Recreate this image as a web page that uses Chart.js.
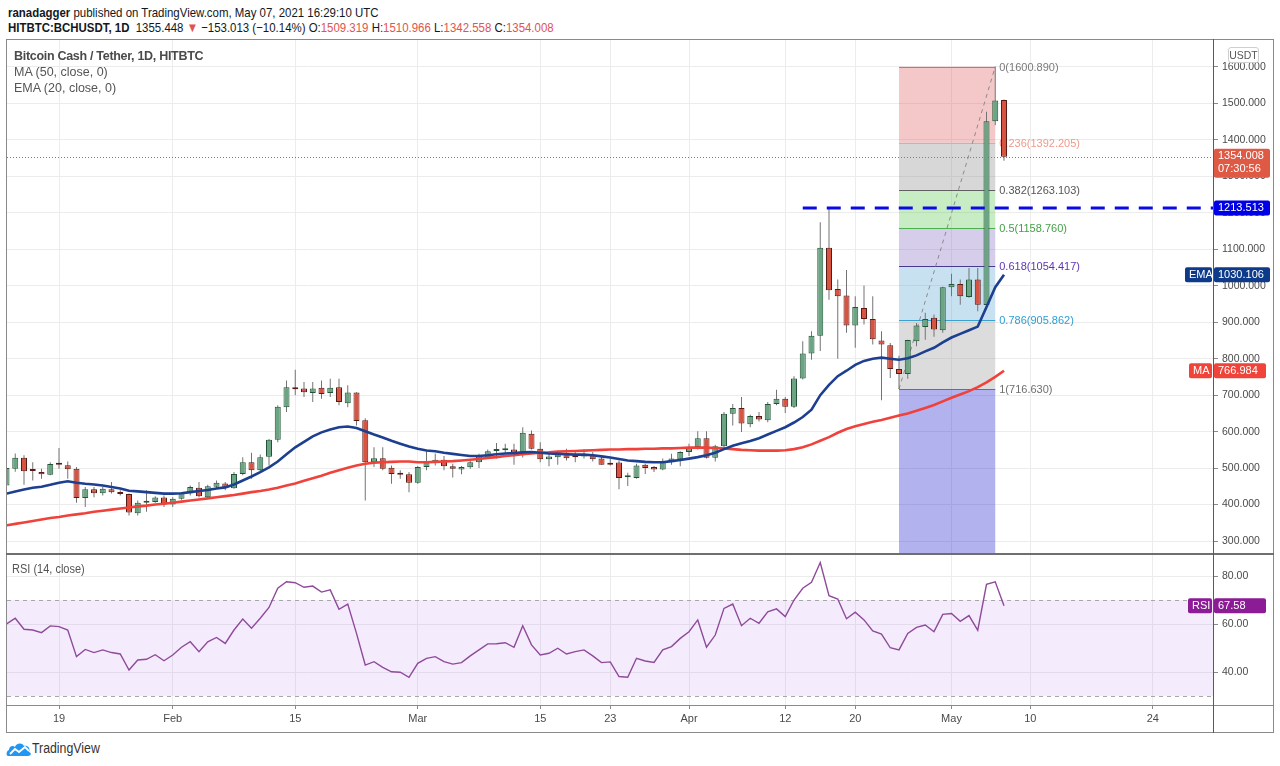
<!DOCTYPE html>
<html>
<head>
<meta charset="utf-8">
<script src="https://cdn.jsdelivr.net/npm/chart.js@4.4.1/dist/chart.umd.min.js"></script>
<style>
  body { margin: 0; background: #fff; width: 1280px; height: 766px; position: relative; overflow: hidden;
         font-family: 'Liberation Sans', sans-serif; color: #131722; }
  .abs { position: absolute; }
  .narrow { transform-origin: 0 50%; transform: scaleX(0.88); }
  #hdr1 { left: 8px; top: 5px; font-size: 13px; white-space: nowrap; }
  #hdr2 { left: 8px; top: 20px; font-size: 13px; white-space: nowrap; }
  .r { color: #e0544f; }
  #frame { left: 6px; top: 39px; width: 1268px; height: 694px; box-sizing: border-box; border: 1px solid #8a8a8a; }
  #sep { left: 6px; top: 553px; width: 1268px; height: 2px; background: #6f6f6f; }
  #xline { left: 6px; top: 705px; width: 1268px; height: 1px; background: #8a8a8a; }
  #yline { left: 1213px; top: 39px; width: 1px; height: 694px; background: #5a5a5a; }
  #legend { left: 14px; top: 48px; font-size: 12.5px; line-height: 16px; color: #555; white-space: nowrap; }
  #legend b { color: #4a4a4a; letter-spacing: -0.3px; }
  #rsiTitle { left: 12px; top: 562px; font-size: 12.5px; color: #555; white-space: nowrap; }
  #usdt { left: 1228px; top: 47px; width: 31px; height: 16px; box-sizing: border-box; border: 1px solid #cfcfcf;
          border-radius: 3px; font-size: 10.5px; line-height: 14px; text-align: center; color: #555; background: #fff; }
  #logo { left: 6px; top: 740px; }
  #logoText { left: 32px; top: 740px; font-size: 14px; color: #333; }
</style>
</head>
<body>
<div id="hdr1" class="abs narrow"><b>ranadagger</b> published on TradingView.com, May 07, 2021 16:29:10 UTC</div>
<div id="hdr2" class="abs narrow"><b>HITBTC:BCHUSDT, 1D</b>&nbsp; 1355.448 <span class="r">&#9660;</span> &minus;153.013 (&minus;10.14%) O:<span class="r">1509.319</span> H:<span class="r">1510.966</span> L:<span class="r">1342.558</span> C:<span class="r">1354.008</span></div>

<canvas id="priceChart" class="abs" width="1266" height="513" style="left:7px;top:40px"></canvas>
<canvas id="rsiChart" class="abs" width="1266" height="178" style="left:7px;top:554px"></canvas>

<div id="frame" class="abs"></div>
<div id="sep" class="abs"></div>
<div id="xline" class="abs"></div>
<div id="yline" class="abs"></div>
<div id="usdt" class="abs">USDT</div>

<div id="legend" class="abs"><b>Bitcoin Cash / Tether, 1D, HITBTC</b><br>MA (50, close, 0)<br>EMA (20, close, 0)</div>
<div id="rsiTitle" class="abs narrow">RSI (14, close)</div>

<svg id="logo" class="abs" width="26" height="18" viewBox="0 0 26 18">
  <path d="M2 16 C0 16 0 11 3 10 C3 6 7 5 9 7 C10 3 16 2 18 6 C21 5 25 8 23 12 C26 13 25 16 22 16 Z" fill="#2196f3"/>
  <path d="M4 14 L9 9 L13 12 L19 7 L23 11" stroke="#fff" stroke-width="1.8" fill="none"/>
</svg>
<div id="logoText" class="abs narrow">TradingView</div>

<script>
// day 0 = Jan 19 2021, first candle Jan 13 (day -6), last candle May 7 (day 108)
const startDay = -6;

const opens = [452,498,528,494,489,482,510,508,498,418,442,431,442,434,429,376,405,407,419,400,
  416,431,446,420,449,458,445,484,516,494,531,578,667,721,718,706,720,706,722,678,
  707,631,516,527,501,483,483,460,503,515,523,505,496,502,516,529,547,549,551,538,
  594,553,524,530,542,533,532,537,526,511,515,475,473,509,503,496,516,524,544,558,
  582,528,560,649,665,620,643,631,676,690,668,746,814,863,1104,991,973,891,939,909,
  850,837,772,758,848,887,912,878,996,1005,969,1017,947,1451,1509.319];
const highs = [505,540,535,516,498,516,555,518,503,448,448,448,462,439,430,411,439,423,425,420,
  434,452,462,454,466,462,489,530,542,537,580,672,740,770,736,736,740,745,745,727,
  708,637,557,557,507,494,489,506,548,540,533,512,506,521,539,551,569,567,567,612,
  603,571,539,544,553,548,551,544,533,526,521,487,512,512,506,526,539,546,567,601,
  601,564,654,676,695,646,654,681,715,695,752,848,875,1174,1213.513,1017,1043,971,1001,971,
  875,843,808,852,898,926,921,997,1033,1017,1049,1049,1477,1600.890,1510.966];
const lows = [445,490,454,466,471,480,498,471,405,393,420,425,430,425,370,370,380,405,393,393,
  413,425,419,416,443,439,443,480,471,491,507,571,654,700,695,681,690,695,672,667,
  617,411,503,494,457,471,434,457,494,507,494,474,483,498,500,526,526,539,509,529,
  551,516,505,509,521,516,526,518,509,507,442,451,471,484,489,494,509,505,533,551,
  526,518,553,617,599,612,628,626,672,651,665,743,797,821,962,800,871,830,894,839,
  686,747,716.630,745,834,852,860,871,971,948,967,930,943,1440,1342.558];
const closes = [500,528,491,492,483,511,509,497,418,442,431,443,434,429,378,405,407,419,400,416,
  431,448,423,450,460,446,484,516,494,530,578,668,722,716,708,718,703,720,681,707,
  629,516,527,498,484,482,460,503,516,523,505,498,503,516,532,546,549,550,538,597,
  553,524,532,539,527,530,537,524,509,509,473,476,507,500,496,518,526,544,558,582,
  528,560,649,665,622,643,633,676,690,668,746,814,863,1104,988,971,891,942,909,853,
  839,772,758,851,891,909,880,996,1005,971,1017,948,1451,1508.461,1354.008];

const ma50 = [343,347,351,355,359,363,366,370,373,376,380,383,386,389,392,395,397,400,402,405,
  408,411,414,417,420,423,426,430,434,437,441,446,452,458,465,472,479,487,494,501,
  507,512,515,516,517,518,518,516,516,517,518,519,521,523,525,528,530,533,535,538,
  540,542,543,545,546,547,548,549,550,551,551,552,552,553,553,554,554,555,556,556,
  556,555,554,552,550,549,548,548,548,549,552,557,565,575,585,597,607,615,621,627,
  632,638,644,650,657,665,673,683,693,702,711,722,735,750,766.984];
const ema20 = [430,436,441,446,449,454,460,464,460,457,455,452,448,444,438,436,434,432,430,430,
  431,434,437,440,444,447,455,466,477,489,502,518,538,557,572,587,598,606,612,614,
  610,601,592,584,575,567,559,553,548,546,542,539,536,533,533,535,538,540,541,543,
  544,542,540,539,538,537,537,535,532,529,525,521,519,517,516,516,519,522,526,530,
  535,542,552,561,568,574,582,592,602,612,625,640,660,700,728,752,767,783,794,800,
  803,800,797,801,809,820,830,845,858,868,878,888,942,996,1030.106];
const rsi14 = [60.0,62.4,57.8,57.5,56.4,59.2,58.9,57.5,46.4,49.4,48.1,49.2,48.1,47.5,40.8,45.0,45.3,47.2,44.7,47.1,
  50.3,52.6,48.5,52.6,54.4,51.9,57.5,62.1,58.2,62.4,66.9,74.9,77.6,77.2,75.3,75.8,73.3,74.2,66.1,68.3,
  56.1,42.9,44.3,41.9,40.1,39.9,37.8,43.6,45.7,46.4,44.3,43.3,43.9,46.7,49.2,51.7,51.8,52.2,50.3,59.3,
  51.3,47.1,47.8,49.9,47.5,48.5,49.2,46.7,43.9,44.2,38.1,37.8,45.7,44.6,44.0,49.2,50.6,54.0,56.8,61.7,
  50.3,55.4,66.5,68.3,59.3,62.4,60.3,65.1,66.3,63.1,70.0,74.9,77.4,85.6,71.8,70.4,62.2,64.9,61.7,57.1,
  55.8,50.1,49.2,56.1,58.6,59.6,56.8,64.0,64.4,61.1,63.5,57.4,76.5,77.6,67.58];

const tickDays = [0, 13, 27, 41, 55, 63, 72, 83, 91, 102, 111, 125];
const tickLabels = ['19', 'Feb', '15', 'Mar', '15', '23', 'Apr', '12', '20', 'May', '10', '24'];
const priceTicks = [300, 400, 500, 600, 700, 800, 900, 1000, 1100, 1200, 1300, 1400, 1500, 1600];
const rsiTicks = [40, 60, 80];

// Fibonacci retracement drawn from the Apr 25 low to the May 6 high
const fibRatios = ['0', '0.236', '0.382', '0.5', '0.618', '0.786', '1', '1.618'];
const fibPrices = [1600.890, 1392.205, 1263.103, 1158.760, 1054.417, 905.862, 716.630, 170.131];
const fibStartDay = 96, fibEndDay = 107;
const resistance = 1213.513, resistanceStartDay = 85;
const lastPrice = 1354.008, countdown = '07:30:56';

const FONT = "'Liberation Sans', sans-serif";
const upColor = '#6ba583', downColor = '#d75442';
const upBorder = '#225437', downBorder = '#5b1a13', wickColor = '#737375';
const emaColor = '#1d3f8f', maColor = '#f0413a';
const gridColor = '#ececec';
const fibFills = ['rgba(224,98,98,0.35)', 'rgba(141,141,141,0.35)', 'rgba(98,201,86,0.35)',
  'rgba(138,112,198,0.35)', 'rgba(98,169,212,0.35)', 'rgba(155,155,155,0.35)', 'rgba(35,35,206,0.35)'];
const fibLines = ['#8c8c8c', '#f0a0a0', '#5f5f5f', '#4caf50', '#4a3a8f', '#3ba0d0', '#6f6f6f', '#6f6f6f'];
const fibText = ['#7a7a7a', '#f09a8a', '#555555', '#43a047', '#5e35b1', '#2a9fd6', '#6f6f6f', '#6f6f6f'];

Chart.defaults.font.family = FONT;

const days = opens.map((_, i) => startDay + i);
const xMin = -52 / 8.75, xMax = (1206 - 52) / 8.75;

const xTicks = scale => { scale.ticks = tickDays.map(v => ({ value: v })); };
// keep the plot area flush with the canvas edges
const noPadY = w => s => { s.width = w; s.paddingTop = 0; s.paddingBottom = 0; };
const noPadX = h => s => { s.height = h; s.paddingLeft = 0; s.paddingRight = 0; };

function tag(ctx, left, top, w, h, bg, lines) {
  ctx.fillStyle = bg;
  ctx.beginPath();
  ctx.roundRect(left, top, w, h, 2);
  ctx.fill();
  ctx.fillStyle = '#fff';
  ctx.font = '11px ' + FONT;
  ctx.textBaseline = 'middle';
  ctx.textAlign = 'left';
  lines.forEach((t, i) => ctx.fillText(t, left + 4, top + 7.5 + i * 13));
}

const priceDecor = {
  id: 'priceDecor',
  beforeDatasetsDraw(chart) {
    const { ctx, chartArea: a, scales: { x, y } } = chart;
    ctx.save();
    ctx.beginPath();
    ctx.rect(a.left, a.top, a.right - a.left, a.bottom - a.top);
    ctx.clip();

    // last price dotted line
    const py = Math.round(y.getPixelForValue(lastPrice)) + 0.5;
    ctx.strokeStyle = '#e0533f';
    ctx.lineWidth = 1;
    ctx.setLineDash([1, 2]);
    ctx.beginPath(); ctx.moveTo(a.left, py); ctx.lineTo(a.right, py); ctx.stroke();
    ctx.setLineDash([]);

    // fib bands
    const x0 = x.getPixelForValue(fibStartDay), x1 = x.getPixelForValue(fibEndDay);
    for (let i = 0; i < fibPrices.length - 1; i++) {
      const ya = y.getPixelForValue(fibPrices[i]), yb = y.getPixelForValue(fibPrices[i + 1]);
      ctx.fillStyle = fibFills[i];
      ctx.fillRect(x0, ya, x1 - x0, yb - ya);
    }
    ctx.font = '11px ' + FONT;
    ctx.textBaseline = 'middle';
    fibPrices.forEach((p, i) => {
      const ly = Math.round(y.getPixelForValue(p)) + 0.5;
      ctx.strokeStyle = fibLines[i];
      ctx.beginPath(); ctx.moveTo(x0, ly); ctx.lineTo(x1, ly); ctx.stroke();
      ctx.fillStyle = fibText[i];
      ctx.fillText(fibRatios[i] + '(' + p.toFixed(3) + ')', x1 + 4, ly);
    });

    // trend line of the retracement
    ctx.strokeStyle = '#8a8a8a';
    ctx.setLineDash([4, 4]);
    ctx.beginPath();
    ctx.moveTo(x0, y.getPixelForValue(fibPrices[6]));
    ctx.lineTo(x1, y.getPixelForValue(fibPrices[0]));
    ctx.stroke();
    ctx.restore();
  },
  afterDatasetsDraw(chart) {
    const { ctx, chartArea: a, scales: { x, y } } = chart;
    ctx.save();
    // resistance dashed line
    const ry = y.getPixelForValue(resistance);
    ctx.strokeStyle = '#0a0ae6';
    ctx.lineWidth = 3;
    ctx.setLineDash([14, 10]);
    ctx.beginPath(); ctx.moveTo(x.getPixelForValue(resistanceStartDay), ry); ctx.lineTo(a.right, ry); ctx.stroke();
    ctx.setLineDash([]);

    const L = a.right + 1;
    const lp = y.getPixelForValue(lastPrice);
    tag(ctx, L, lp - 8, 56, 29, '#de5a45', [lastPrice.toFixed(3), countdown]);
    tag(ctx, L, ry - 7.5, 56, 15, '#0000e6', [resistance.toFixed(3)]);
    const ev = ema20[ema20.length - 1], ey = y.getPixelForValue(ev);
    tag(ctx, L, ey - 7.5, 56, 15, '#0e3a8a', [ev.toFixed(3)]);
    tag(ctx, a.right - 28, ey - 7.5, 27, 15, '#0e3a8a', ['EMA']);
    const mv = ma50[ma50.length - 1], my = y.getPixelForValue(mv);
    tag(ctx, L, my - 7.5, 52, 15, '#f0443a', [mv.toFixed(3)]);
    tag(ctx, a.right - 24, my - 7.5, 23, 15, '#f0443a', ['MA']);
    ctx.restore();
  }
};

new Chart(document.getElementById('priceChart'), {
  type: 'bar',
  data: {
    datasets: [
      { type: 'line', label: 'EMA (20)', data: days.map((d, i) => ({ x: d, y: ema20[i] })),
        borderColor: emaColor, borderWidth: 2.6, pointRadius: 0, tension: 0, order: 1 },
      { type: 'line', label: 'MA (50)', data: days.map((d, i) => ({ x: d, y: ma50[i] })),
        borderColor: maColor, borderWidth: 2.6, pointRadius: 0, tension: 0, order: 2 },
      { label: 'body', data: days.map((d, i) => ({ x: d, y: [opens[i], closes[i]] })),
        backgroundColor: c => closes[c.dataIndex] >= opens[c.dataIndex] ? upColor : downColor,
        borderColor: c => closes[c.dataIndex] >= opens[c.dataIndex] ? upBorder : downBorder,
        borderWidth: 1, borderSkipped: false, grouped: false, maxBarThickness: 6, minBarLength: 2, order: 3 },
      { label: 'wick', data: days.map((d, i) => ({ x: d, y: [lows[i], highs[i]] })),
        backgroundColor: wickColor, grouped: false, maxBarThickness: 1, order: 4 }
    ]
  },
  options: {
    responsive: false, animation: false, events: [],
    layout: { padding: 0 },
    plugins: { legend: { display: false }, tooltip: { enabled: false } },
    scales: {
      x: {
        type: 'linear', min: xMin, max: xMax, offset: false,
        grid: { color: gridColor, offset: false, drawTicks: false },
        border: { display: false },
        ticks: { display: false },
        afterBuildTicks: xTicks,
        afterFit: noPadX(0)
      },
      y: {
        position: 'right', min: 267.1, max: 1674.05,
        grid: { color: gridColor, tickLength: 5, tickColor: '#8a8a8a' },
        border: { display: false },
        ticks: { color: '#4a4a4a', font: { size: 10.5 }, padding: 4, callback: v => v.toFixed(3) },
        afterBuildTicks: s => { s.ticks = priceTicks.map(v => ({ value: v })); },
        afterFit: noPadY(60)
      }
    }
  },
  plugins: [priceDecor]
});

const rsiDecor = {
  id: 'rsiDecor',
  beforeDatasetsDraw(chart) {
    const { ctx, chartArea: a, scales: { y } } = chart;
    const y70 = y.getPixelForValue(70), y30 = y.getPixelForValue(30);
    ctx.save();
    ctx.fillStyle = 'rgba(149,54,238,0.1)';
    ctx.fillRect(a.left, y70, a.right - a.left, y30 - y70);
    ctx.strokeStyle = '#a8a8a8';
    ctx.lineWidth = 1;
    ctx.setLineDash([4, 4]);
    [y70, y30].forEach(v => {
      const p = Math.round(v) + 0.5;
      ctx.beginPath(); ctx.moveTo(a.left, p); ctx.lineTo(a.right, p); ctx.stroke();
    });
    ctx.restore();
  },
  afterDatasetsDraw(chart) {
    const { ctx, chartArea: a, scales: { y } } = chart;
    const v = rsi14[rsi14.length - 1], py = y.getPixelForValue(v);
    ctx.save();
    tag(ctx, a.right + 1, py - 7.5, 52, 15, '#8c1c96', [v.toFixed(2)]);
    tag(ctx, a.right - 25, py - 7.5, 24, 15, '#8c1c96', ['RSI']);
    ctx.restore();
  }
};

new Chart(document.getElementById('rsiChart'), {
  type: 'line',
  data: {
    datasets: [
      { label: 'RSI (14)', data: days.map((d, i) => ({ x: d, y: rsi14[i] })),
        borderColor: '#8f4a9a', borderWidth: 1.4, pointRadius: 0, tension: 0 }
    ]
  },
  options: {
    responsive: false, animation: false, events: [],
    layout: { padding: 0 },
    plugins: { legend: { display: false }, tooltip: { enabled: false } },
    scales: {
      x: {
        type: 'linear', min: xMin, max: xMax, offset: false,
        grid: { color: gridColor, offset: false, tickLength: 4, tickColor: '#8a8a8a' },
        border: { display: false },
        ticks: { color: '#4a4a4a', font: { size: 11 }, padding: 3, autoSkip: false, maxRotation: 0,
                 callback: v => tickLabels[tickDays.indexOf(v)] },
        afterBuildTicks: xTicks,
        afterFit: noPadX(27)
      },
      y: {
        position: 'right', min: 26.25, max: 89.167,
        grid: { color: gridColor, tickLength: 5, tickColor: '#8a8a8a' },
        border: { display: false },
        ticks: { color: '#4a4a4a', font: { size: 10.5 }, padding: 4, callback: v => v.toFixed(2) },
        afterBuildTicks: s => { s.ticks = rsiTicks.map(v => ({ value: v })); },
        afterFit: noPadY(60)
      }
    }
  },
  plugins: [rsiDecor]
});
</script>
</body>
</html>
